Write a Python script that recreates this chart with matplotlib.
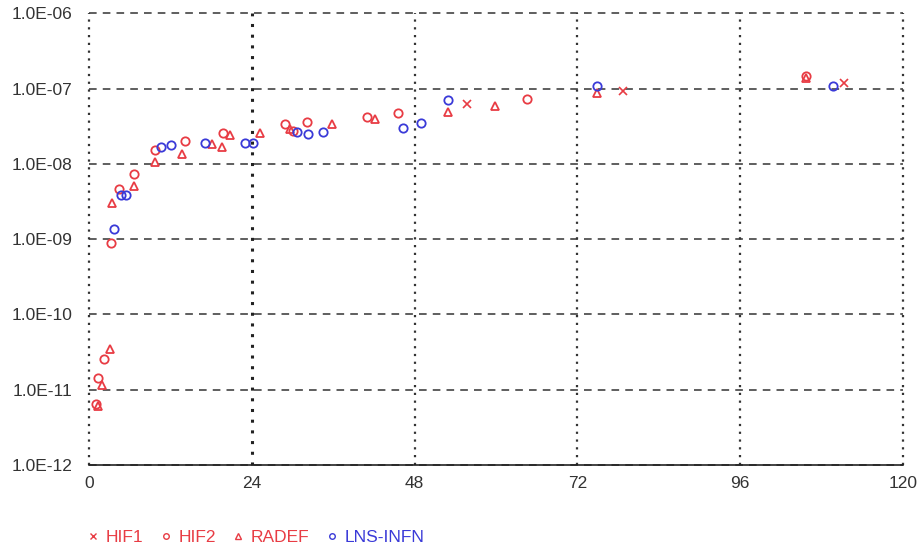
import matplotlib
matplotlib.use("Agg")
import matplotlib.pyplot as plt
from matplotlib.ticker import FixedLocator, FuncFormatter, NullLocator
from matplotlib.lines import Line2D

# data
hif1_x = [55.7, 78.8, 111.4]
hif1_y = [6.2e-8, 9.2e-8, 1.17e-7]

hif2_x = [1.0, 1.25, 2.1, 3.2, 4.35, 6.6, 9.7, 14.1, 19.7, 28.8, 30.0, 32.1, 41.0, 45.6, 64.5, 105.8]
hif2_y = [6.4e-12, 1.42e-11, 2.54e-11, 8.8e-10, 4.6e-9, 7.2e-9, 1.51e-8, 2.0e-8, 2.55e-8,
          3.36e-8, 2.7e-8, 3.56e-8, 4.16e-8, 4.7e-8, 7.2e-8, 1.45e-7]

radef_x = [1.25, 1.8, 3.0, 3.3, 6.6, 9.7, 13.6, 18.1, 19.5, 20.7, 25.2, 29.6, 35.8, 42.1,
           52.9, 59.8, 74.9, 105.8]
radef_y = [6.0e-12, 1.15e-11, 3.45e-11, 3.0e-9, 5.0e-9, 1.05e-8, 1.34e-8, 1.82e-8, 1.66e-8,
           2.4e-8, 2.55e-8, 2.88e-8, 3.36e-8, 3.91e-8, 4.84e-8, 5.82e-8, 8.67e-8, 1.38e-7]

lns_x = [3.6, 4.7, 5.4, 10.6, 12.0, 17.0, 23.0, 24.1, 30.6, 32.2, 34.4, 46.2, 49.0, 52.9, 74.9, 109.7]
lns_y = [1.35e-9, 3.8e-9, 3.8e-9, 1.66e-8, 1.77e-8, 1.88e-8, 1.88e-8, 1.88e-8, 2.63e-8,
         2.47e-8, 2.63e-8, 2.97e-8, 3.46e-8, 7.0e-8, 1.07e-7, 1.07e-7]

x_ticks = [0, 24, 48, 72, 96, 120]
y_ticks = [1e-12, 1e-11, 1e-10, 1e-9, 1e-8, 1e-7, 1e-6]

red = "#e83c44"
blue = "#3a3ad8"
ms = 6

plt.rcParams["font.family"] = ["Liberation Sans", "DejaVu Sans"]

fig = plt.figure(figsize=(9.22, 5.52), dpi=100)
ax = fig.add_axes([0.097, 0.158, 0.882, 0.818])

ax.plot(hif1_x, hif1_y, ls="none", marker="x", ms=ms, mec=red, mew=1.2, label="HIF1")
ax.plot(hif2_x, hif2_y, ls="none", marker="o", ms=ms, mfc="none", mec=red, mew=1.3, label="HIF2")
ax.plot(radef_x, radef_y, ls="none", marker="^", ms=ms, mfc="none", mec=red, mew=1.3, label="RADEF")
ax.plot(lns_x, lns_y, ls="none", marker="o", ms=ms, mfc="none", mec=blue, mew=1.3, label="LNS-INFN")

ax.set_yscale("log")
ax.set_xlim(0, 120)
ax.set_ylim(1e-12, 1e-6)
ax.xaxis.set_major_locator(FixedLocator(x_ticks))
ax.yaxis.set_major_locator(FixedLocator(y_ticks))
ax.yaxis.set_minor_locator(NullLocator())
ax.yaxis.set_major_formatter(FuncFormatter(lambda v, p: "%.1E" % v))

ax.grid(axis="y", ls=(0, (5, 4)), color="#333333", lw=1.1)
ax.grid(axis="x", ls=(0, (1, 2.5)), color="#333333", lw=1.6)
ax.set_axisbelow(True)
# the 24 line looks heavier in the original
ax.get_xgridlines()[1].set_linewidth(2.2)
ax.get_xgridlines()[1].set_color("#222222")
for gl in ax.get_xgridlines() + ax.get_ygridlines():
    gl.set_clip_on(False)

for s in ["top", "right", "left"]:
    ax.spines[s].set_visible(False)
ax.spines["bottom"].set_color("#222222")
ax.spines["bottom"].set_linewidth(1.2)

ax.tick_params(length=0, labelsize=12.5, labelcolor="#333333")
ax.tick_params(axis="y", pad=12)
ax.tick_params(axis="x", pad=8)

handles = [
    Line2D([], [], ls="none", marker="x", ms=4, mec=red, mew=1),
    Line2D([], [], ls="none", marker="o", ms=4, mfc="none", mec=red, mew=1),
    Line2D([], [], ls="none", marker="^", ms=4, mfc="none", mec=red, mew=1),
    Line2D([], [], ls="none", marker="o", ms=4, mfc="none", mec=blue, mew=1),
]
leg = fig.legend(handles, ["HIF1", "HIF2", "RADEF", "LNS-INFN"], ncol=4, frameon=False,
                 loc="center left", bbox_to_anchor=(0.0855, 0.027), borderaxespad=0,
                 fontsize=12.5, handlelength=0.8, handletextpad=0.33, columnspacing=0.9)
for t, c in zip(leg.get_texts(), [red, red, red, blue]):
    t.set_color(c)

fig.savefig("out.png", dpi=100)
